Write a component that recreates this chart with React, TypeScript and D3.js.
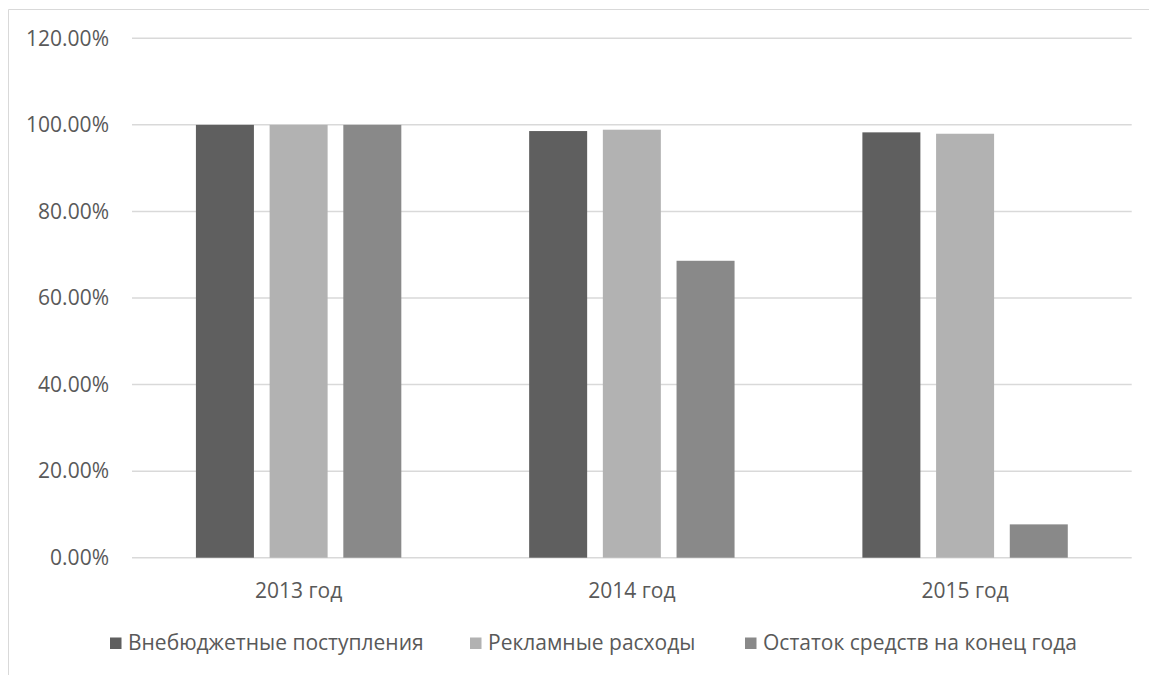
import React from "react";
import * as d3 from "d3";

const categories = ["2013 год", "2014 год", "2015 год"];
const seriesNames = [
  "Внебюджетные поступления",
  "Рекламные расходы",
  "Остаток средств на конец года",
];
const extraBudget = [1.0, 0.9857, 0.9827];
const adSpending = [1.0, 0.9888, 0.9795];
const yearEndBalance = [1.0, 0.686, 0.077];
const yTicks = [0, 0.2, 0.4, 0.6, 0.8, 1.0, 1.2];

const seriesValues = [extraBudget, adSpending, yearEndBalance];
const seriesColors = ["#5f5f5f", "#b2b2b2", "#898989"];

const W = 1149;
const H = 675;
const plot = { left: 132, right: 1131.7, top: 38.3, bottom: 557.7 };
const textColor = "#595959";
const font = "'Open Sans', 'Noto Sans', sans-serif";
const fontSize = 21;

export default function App() {
  const x = d3
    .scaleBand<string>()
    .domain(categories)
    .range([plot.left, plot.right])
    .padding(0);
  const y = d3.scaleLinear().domain([0, 1.2]).range([plot.bottom, plot.top]);
  const fmt = (v: number) => (v * 100).toFixed(2) + "%";

  const groupHalf = 102.7;
  const legendX = [110, 470, 745];

  return (
    <svg
      width={W}
      height={H}
      style={{ position: "absolute", left: 0, top: 0, background: "#fff" }}
      fontFamily={font}
    >
      <rect x={0} y={0} width={W} height={H} fill="#fff" />
      {/* chart frame */}
      <line x1={8.5} y1={9.5} x2={W} y2={9.5} stroke="#d9d9d9" strokeWidth={1} />
      <line x1={8.5} y1={9.5} x2={8.5} y2={H} stroke="#d9d9d9" strokeWidth={1} />

      {/* gridlines and y labels */}
      {yTicks.map((t) => (
        <g key={t}>
          <line
            x1={plot.left}
            x2={plot.right}
            y1={y(t)}
            y2={y(t)}
            stroke="#d9d9d9"
            strokeWidth={1.5}
          />
          <text
            x={109}
            y={y(t)}
            dy="0.35em"
            textAnchor="end"
            fontSize={fontSize}
            fill={textColor}
          >
            {fmt(t)}
          </text>
        </g>
      ))}

      {/* bars */}
      {categories.map((c, ci) => {
        const center = (x(c) as number) + x.bandwidth() / 2;
        const inner = d3
          .scaleBand<number>()
          .domain(seriesNames.map((_, i) => i))
          .range([center - groupHalf, center + groupHalf])
          .paddingInner(0.213)
          .paddingOuter(0);
        return (
          <g key={c}>
            {seriesValues.map((vals, si) => (
              <rect
                key={si}
                x={inner(si)}
                y={y(vals[ci])}
                width={inner.bandwidth()}
                height={y(0) - y(vals[ci])}
                fill={seriesColors[si]}
              />
            ))}
            <text
              x={center}
              y={597.5}
              textAnchor="middle"
              fontSize={fontSize}
              fill={textColor}
            >
              {c}
            </text>
          </g>
        );
      })}

      {/* legend */}
      {seriesNames.map((name, i) => (
        <g key={name}>
          <rect
            x={legendX[i]}
            y={637.5}
            width={11.5}
            height={11.5}
            fill={seriesColors[i]}
          />
          <text
            x={legendX[i] + 18}
            y={650}
            fontSize={fontSize}
            fill={textColor}
          >
            {name}
          </text>
        </g>
      ))}
    </svg>
  );
}
